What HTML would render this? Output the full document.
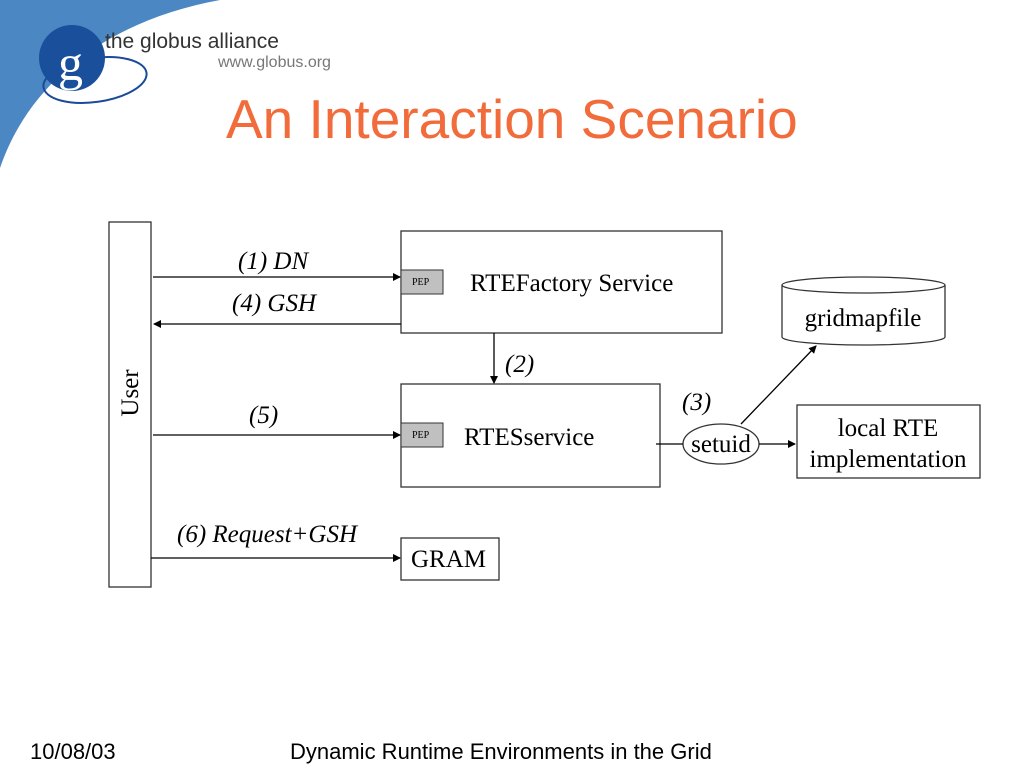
<!DOCTYPE html>
<html><head><meta charset="utf-8"><style>
html,body{margin:0;padding:0;background:#fff;width:1024px;height:768px;overflow:hidden}
svg{display:block}
.t{font-family:"Liberation Serif",serif;fill:#000}
.s{font-family:"Liberation Sans",sans-serif}
</style></head><body>
<svg width="1024" height="768" viewBox="0 0 1024 768" xmlns="http://www.w3.org/2000/svg">
<defs><marker id="a" markerWidth="8" markerHeight="8" refX="7" refY="4" orient="auto" markerUnits="userSpaceOnUse"><path d="M0,0 L8,4 L0,8 z" fill="#000"/></marker></defs>
<path d="M0,0 L220,0 C110,20 30,80 0,168 Z" fill="#4b87c2"/>
<ellipse cx="95" cy="80" rx="52" ry="22" fill="none" stroke="#1a4a9a" stroke-width="2" transform="rotate(-8 95 80)"/>
<circle cx="72" cy="58" r="33" fill="#1a4f9c"/>
<text x="58" y="80" font-family="Liberation Serif,serif" font-size="50" fill="#fff">g</text>
<text x="105" y="48" class="s" font-size="21" fill="#333">the globus alliance</text>
<text x="218" y="67" class="s" font-size="16" fill="#777">www.globus.org</text>
<text x="226" y="138" class="s" font-size="55" fill="#f26b3a">An Interaction Scenario</text>
<g stroke="#333" stroke-width="1.3" fill="#fff">
<rect x="109" y="222" width="42" height="365"/>
<rect x="401" y="231" width="321" height="102"/>
<rect x="401" y="384" width="259" height="103"/>
<rect x="401" y="538" width="98" height="42"/>
<rect x="797" y="405" width="183" height="73"/>
<path d="M782,285 L782,337 A81.5,8 0 0 0 945,337 L945,285"/>
<ellipse cx="863.5" cy="285" rx="81.5" ry="8"/>
<ellipse cx="721" cy="444" rx="38" ry="20"/>
</g>
<rect x="401" y="270" width="42" height="24" fill="#c0c0c0" stroke="#333"/>
<rect x="401" y="423" width="42" height="24" fill="#c0c0c0" stroke="#333"/>
<g stroke="#000" stroke-width="1.3" fill="none">
<line x1="153" y1="277" x2="400" y2="277" marker-end="url(#a)"/>
<line x1="401" y1="324" x2="154" y2="324" marker-end="url(#a)"/>
<line x1="153" y1="435" x2="400" y2="435" marker-end="url(#a)"/>
<line x1="151" y1="558" x2="400" y2="558" marker-end="url(#a)"/>
<line x1="494" y1="333" x2="494" y2="383" marker-end="url(#a)"/>
<line x1="656" y1="444" x2="683" y2="444"/>
<line x1="759" y1="444" x2="795" y2="444" marker-end="url(#a)"/>
<line x1="741" y1="424" x2="816" y2="346" marker-end="url(#a)"/>
</g>
<g class="t" font-size="25" font-style="italic">
<text x="238" y="269">(1) DN</text>
<text x="232" y="311">(4) GSH</text>
<text x="249" y="423">(5)</text>
<text x="177" y="542">(6) Request+GSH</text>
<text x="505" y="372">(2)</text>
<text x="682" y="410">(3)</text>
</g>
<g class="t" font-size="25">
<text x="470" y="291">RTEFactory Service</text>
<text x="464" y="445">RTESservice</text>
<text x="411" y="567">GRAM</text>
<text x="863" y="326" text-anchor="middle">gridmapfile</text>
<text x="888" y="436" text-anchor="middle">local RTE</text>
<text x="888" y="467" text-anchor="middle">implementation</text>
<text x="721" y="452" text-anchor="middle">setuid</text>
<text transform="translate(138,393) rotate(-90)" text-anchor="middle">User</text>
</g>
<text x="412" y="285" class="t" font-size="10">PEP</text>
<text x="412" y="438" class="t" font-size="10">PEP</text>
<text x="30" y="759" class="s" font-size="22" fill="#000">10/08/03</text>
<text x="290" y="759" class="s" font-size="22" fill="#000">Dynamic Runtime Environments in the Grid</text>
</svg>
</body></html>
